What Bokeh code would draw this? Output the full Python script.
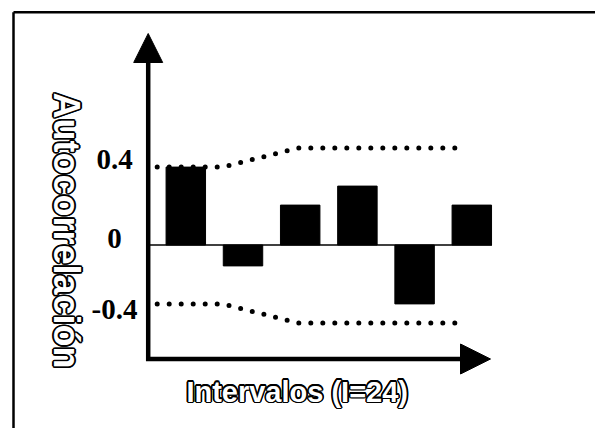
import math
from bokeh.plotting import figure
from bokeh.models import Range1d, Arrow, NormalHead
from bokeh.core.properties import value
from bokeh.embed import file_html
from bokeh.resources import INLINE

# ---- data ----
lags = [1, 2, 3, 4, 5, 6]
acf = [0.41, -0.11, 0.21, 0.31, -0.31, 0.21]
band_x = [0.5, 1.65, 2.95, 5.88]
band_upper = [0.41, 0.41, 0.51, 0.51]
band_lower = [-0.31, -0.31, -0.41, -0.41]
tick_values = [0.4, 0, -0.4]
tick_labels = ["0.4", "0", "-0.4"]
x_title = "Intervalos (I=24)"
y_title = "Autocorrelación"

# ---- layout helpers (page pixel -> data) ----
OFF = 0
X0_PX, DX = 185.3, 57.2
Y0_PX, DY = 244.5, 190.0
def dx(px):
    return 1 + (px - X0_PX) / DX
def dy(py):
    return (Y0_PX - py) / DY

W, H = 595, 428
p = figure(width=W, height=H,
           x_range=Range1d(dx(OFF), dx(OFF + W)), y_range=Range1d(dy(OFF + H), dy(OFF)),
           output_backend="svg", toolbar_location=None, min_border=0,
           x_axis_location=None, y_axis_location=None)
p.grid.visible = False
p.outline_line_color = None
p.background_fill_color = "white"
p.border_fill_color = "white"

# frame border (top and left)
p.segment(x0=[dx(13), dx(13)], y0=[dy(11.7), dy(11.7)],
          x1=[dx(OFF + W), dx(13)], y1=[dy(11.7), dy(OFF + H)],
          line_color="black", line_width=2.5)

# zero line
p.segment(x0=[dx(148)], y0=[0], x1=[dx(491.5)], y1=[0], line_color="black", line_width=1.5)

# bars
p.vbar(x=lags, top=acf, bottom=0, width=0.69, fill_color="black", line_color="black")

# confidence bands (dotted)
for band in (band_upper, band_lower):
    p.line(band_x, band, line_color="black", line_width=5,
           line_dash="0 12", line_cap="round")

# axes arrows
p.add_layout(Arrow(end=NormalHead(size=29, fill_color="black", line_color="black"),
                   x_start=dx(147.7), y_start=dy(360.5), x_end=dx(147.7), y_end=dy(33),
                   line_color="black", line_width=4.5))
p.add_layout(Arrow(end=NormalHead(size=30, fill_color="black", line_color="black"),
                   x_start=dx(145.5), y_start=dy(358.5), x_end=dx(490), y_end=dy(358.5),
                   line_color="black", line_width=4.5))

# tick labels
p.text(x=[dx(114)] * len(tick_values), y=tick_values, text=tick_labels,
       text_font=value("Liberation Serif"), text_font_style="bold",
       text_font_size="29px", text_align="center", text_baseline="middle",
       y_offset=[-9.5, -7, -12], text_color="black")

# axis titles (outlined: black halo + white fill)
ring = [(math.cos(a) * 1.6, math.sin(a) * 1.6) for a in [i * math.pi / 6 for i in range(12)]]

def outlined(x, y, txt, size, angle=0.0):
    n = len(ring)
    p.text(x=[x] * n, y=[y] * n, text=[txt] * n, angle=angle,
           x_offset=[o[0] for o in ring], y_offset=[o[1] for o in ring],
           text_font=value("Liberation Sans"), text_font_style="bold",
           text_font_size=size, text_align="center", text_baseline="middle",
           text_color="black")
    p.text(x=[x], y=[y], text=[txt], angle=angle,
           text_font=value("Liberation Sans"), text_font_style="bold",
           text_font_size=size, text_align="center", text_baseline="middle",
           text_color="white")

outlined(dx(296.7), dy(391), x_title, "29px")
outlined(dx(66), dy(230), y_title, "36px", angle=-math.pi / 2)

open("out.html", "w").write(file_html(p, INLINE))
